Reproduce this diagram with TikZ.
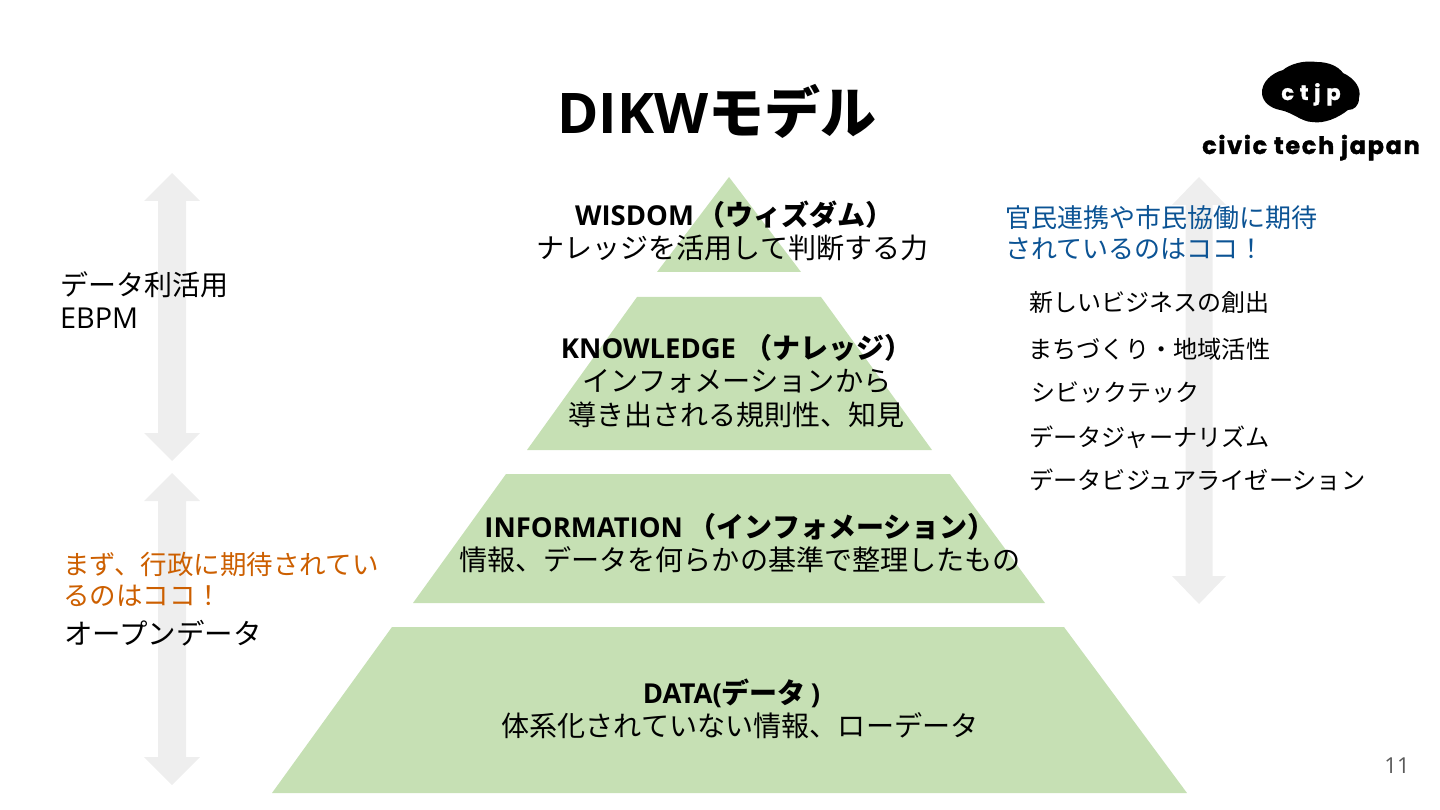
\documentclass[tikz,border=0pt]{standalone}
\usepackage{fontspec}
\setmainfont{Noto Sans CJK JP}
\newfontfamily\latinfont{Open Sans}
\newfontfamily\headfont[Scale=0.98]{Open Sans}
\newfontfamily\logofont[LetterSpace=7,FakeBold=1.5]{Poppins}
\newfontfamily\logocloudfont[LetterSpace=28,FakeBold=1.5]{Poppins}
\definecolor{pyramidgreen}{HTML}{C6E0B4}
\definecolor{arrowgrey}{HTML}{EEEEEE}
\definecolor{hereblue}{HTML}{0B5394}
\definecolor{hereorange}{HTML}{CC5F00}
\definecolor{pagegrey}{HTML}{595959}
\tikzset{
    level/.style={fill=pyramidgreen},
    updown/.style={fill=arrowgrey},
    txt/.style={inner sep=0pt, anchor=base, text=black},
    txtl/.style={inner sep=0pt, anchor=base west, text=black},
}
\newcommand{\fsz}[1]{\fontsize{#1}{#1}\selectfont}
\newcommand{\lat}[1]{{\latinfont #1}}
\newcommand{\hdl}[1]{{\headfont #1}}
\begin{document}
\begin{tikzpicture}[x=1pt, y=-1pt]
    \useasboundingbox (0,0) rectangle (1440,810);

    % Grey up and down arrows
    \foreach \xc/\ya/\yb/\hw/\sw in {172/173/461/28/14, 172/473/785/28/14, 1199/177/604/27/13.5}{
        \fill[updown] (\xc,\ya) -- (\xc+\hw,\ya+28) -- (\xc+\sw,\ya+28) -- (\xc+\sw,\yb-28) -- (\xc+\hw,\yb-28)
            -- (\xc,\yb) -- (\xc-\hw,\yb-28) -- (\xc-\sw,\yb-28) -- (\xc-\sw,\ya+28) -- (\xc-\hw,\ya+28) -- cycle;
    }

    % Pyramid
    \fill[level] (729,177) -- (801,272) -- (657,272) -- cycle;
    \fill[level] (637,297) -- (821,297) -- (932,450) -- (527,450) -- cycle;
    \fill[level] (506,474) -- (950,474) -- (1045,603) -- (413,603) -- cycle;
    \fill[level] (392,627) -- (1064,627) -- (1187,793) -- (272,793) -- cycle;

    % Title
    \node[txt, font=\fsz{56}\bfseries] (title) at (717,134) {\lat{DIKW}モデル};

    % Pyramid texts
    \node[txt, font=\fsz{28}\bfseries] (wisdom) at (734.5,226) {\hdl{WISDOM}\hspace{4pt}（ウィズダム）};
    \node[txt, font=\fsz{28}] (wisdomsub) at (732.5,259) {ナレッジを活用して判断する力};
    \node[txt, font=\fsz{28}\bfseries] (knowledge) at (736.5,358) {\hdl{KNOWLEDGE}\hspace{8pt}（ナレッジ）};
    \node[txt, font=\fsz{28.2}] (knowledgesub) at (737,391) {インフォメーションから};
    \node[txt, font=\fsz{28}] (knowledgesubb) at (736,425) {導き出される規則性、知見};
    \node[txt, font=\fsz{28}\bfseries] (information) at (740,537) {\hdl{INFORMATION}\hspace{6pt}（インフォメーション）};
    \node[txt, font=\fsz{28.1}] (informationsub) at (740,570) {情報、データを何らかの基準で整理したもの};
    \node[txt, font=\fsz{28}\bfseries] (data) at (731.5,703) {\hdl{DATA(}データ\hspace{5pt}\hdl{)}};
    \node[txt, font=\fsz{28.1}] (datasub) at (740,736) {体系化されていない情報、ローデータ};

    % Left side
    \node[txtl, font=\fsz{28}] (use) at (60,295) {データ利活用};
    \node[txtl, font=\fsz{28.8}] (ebpm) at (60,328) {\lat{EBPM}};
    \node[txtl, font=\fsz{26.5}, text=hereorange] (gova) at (63,574) {まず、行政に期待されてい};
    \node[txtl, font=\fsz{26.5}, text=hereorange] (govb) at (63,605) {るのはココ！};
    \node[txtl, font=\fsz{28.5}] (opendata) at (64,644) {オープンデータ};

    % Right side
    \node[txtl, font=\fsz{26}, text=hereblue] (civica) at (1005,228) {官民連携や市民協働に期待};
    \node[txtl, font=\fsz{26}, text=hereblue] (civicb) at (1005,259) {されているのはココ！};
    \foreach \nm/\xa/\ya/\lbl/\sz in {biz/1029/312/新しいビジネスの創出/24, town/1028/358/まちづくり・地域活性/24.2, tech/1031/401/シビックテック/24, journal/1029/446/データジャーナリズム/24.2, vis/1029/489/データビジュアライゼーション/24.2}{
        \node[txtl, font=\fsz{\sz}] (\nm) at (\xa,\ya) {\lbl};
    }

    % Logo
    \fill[black] (1262,94) .. controls (1261,82) and (1272,73) .. (1283,70) .. controls (1290,64) and (1304,60) .. (1317,62)
        .. controls (1328,62) and (1338,66) .. (1343,73) .. controls (1354,78) and (1362,88) .. (1359,98)
        .. controls (1359,106) and (1354,110) .. (1348,110) .. controls (1338,118) and (1324,124) .. (1312,122)
        .. controls (1302,122) and (1292,112) .. (1280,110) .. controls (1270,108) and (1263,102) .. (1262,94) -- cycle;
    \node[txt, font=\fsz{21}\logocloudfont\bfseries, text=white] (logocloud) at (1311,100) {ctjp};
    \node[txt, font=\fsz{24}\logofont\bfseries] (logotext) at (1311,154) {civic tech japan};

    % Page number
    \node[txt, font=\fsz{22}\latinfont, text=pagegrey] (page) at (1397,773) {11};
\end{tikzpicture}
\end{document}
